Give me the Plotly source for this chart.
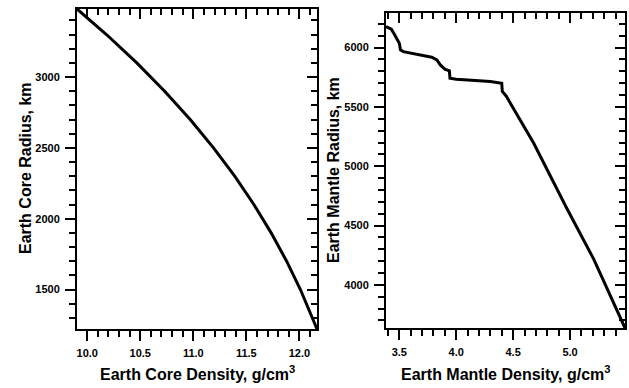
import plotly.graph_objects as go

# Earth core (outer core) density vs radius
core_density = [9.9035, 10.1813, 10.4673, 10.7301, 10.9709, 11.1907, 11.3904,
                11.5712, 11.7340, 11.8799, 12.0099, 12.1250, 12.1663]
core_radius = [3480, 3300, 3100, 2900, 2700, 2500, 2300, 2100, 1900, 1700, 1500, 1300, 1221.5]

# Earth mantle density vs radius
mantle_density = [3.383, 3.43, 3.46, 3.50, 3.51, 3.535, 3.785, 3.83, 3.86, 3.90, 3.94,
                  3.945, 4.00, 4.30, 4.40, 4.405, 4.44, 4.68, 4.97, 5.21, 5.483]
mantle_radius = [6177, 6155, 6107, 6037, 5981, 5966, 5919, 5896, 5854, 5818, 5804,
                 5742, 5734, 5714, 5700, 5630, 5590, 5195, 4648, 4213, 3636]

core_xrange = [9.9035, 12.1663]
core_yrange = [1221.5, 3480]
mantle_xrange = [3.383, 5.483]
mantle_yrange = [3636, 6296]

FONT = "Liberation Sans, Arial, sans-serif"
W, H = 629, 388


def px_x(p):
    return p / W


def px_y(p):
    return 1 - p / H


fig = go.Figure()
fig.add_trace(go.Scatter(x=core_density, y=core_radius, mode="lines",
                         line=dict(color="black", width=3), xaxis="x", yaxis="y",
                         showlegend=False, hoverinfo="skip"))
fig.add_trace(go.Scatter(x=mantle_density, y=mantle_radius, mode="lines",
                         line=dict(color="black", width=3), xaxis="x2", yaxis="y2",
                         showlegend=False, hoverinfo="skip"))
# invisible traces on mirrored axes so they render
fig.add_trace(go.Scatter(x=[core_density[0]], y=[core_radius[0]], mode="markers",
                         marker=dict(opacity=0), xaxis="x3", yaxis="y3",
                         showlegend=False, hoverinfo="skip"))
fig.add_trace(go.Scatter(x=[mantle_density[0]], y=[mantle_radius[0]], mode="markers",
                         marker=dict(opacity=0), xaxis="x4", yaxis="y4",
                         showlegend=False, hoverinfo="skip"))

dxl = [px_x(77), px_x(317)]
dxr = [px_x(386), px_x(625)]
dyl = [px_y(329), px_y(9)]
dyr = [px_y(328), px_y(12.5)]

tickfont = dict(family=FONT, size=11, color="black", weight="bold")


def main_axis(rng, dom, anchor, dtick, mdtick, fmt=None):
    d = dict(range=rng, domain=dom, anchor=anchor, showgrid=False, zeroline=False,
             showline=True, linecolor="black", linewidth=2,
             ticks="outside", ticklen=10, tickwidth=2, tickcolor="black",
             dtick=dtick, tickfont=tickfont, ticklabelstandoff=3,
             minor=dict(ticks="outside", ticklen=6, tickwidth=1.5,
                        tickcolor="black", dtick=mdtick, showgrid=False))
    if fmt:
        d["tickformat"] = fmt
    return d


def mirror_axis(rng, dom, overlay, anchor, side, dtick, mdtick):
    return dict(range=rng, domain=dom, overlaying=overlay, anchor=anchor, side=side,
                showgrid=False, zeroline=False, showline=True, linecolor="black",
                linewidth=2, ticks="inside", ticklen=10, tickwidth=2,
                tickcolor="black", dtick=dtick, showticklabels=False,
                minor=dict(ticks="inside", ticklen=6, tickwidth=1.5,
                           tickcolor="black", dtick=mdtick, showgrid=False))


fig.update_layout(
    width=W, height=H,
    margin=dict(l=0, r=0, t=0, b=0),
    paper_bgcolor="white", plot_bgcolor="white",
    xaxis=main_axis(core_xrange, dxl, "y", 0.5, 0.1, ".1f"),
    yaxis=main_axis(core_yrange, dyl, "x", 500, 100),
    xaxis2=main_axis(mantle_xrange, dxr, "y2", 0.5, 0.1, ".1f"),
    yaxis2=main_axis(mantle_yrange, dyr, "x2", 500, 100),
    xaxis3=mirror_axis(core_xrange, dxl, "x", "y3", "top", 0.5, 0.1),
    yaxis3=mirror_axis(core_yrange, dyl, "y", "x3", "right", 500, 100),
    xaxis4=mirror_axis(mantle_xrange, dxr, "x2", "y4", "top", 0.5, 0.1),
    yaxis4=mirror_axis(mantle_yrange, dyr, "y2", "x4", "right", 500, 100),
)

title_font = dict(family=FONT, size=16, color="black", weight="bold")
annotations = [
    dict(text="Earth Core Density, g/cm<sup>3</sup>", x=px_x(197), y=px_y(385),
         xanchor="center", yanchor="bottom"),
    dict(text="Earth Mantle Density, g/cm<sup>3</sup>", x=px_x(505.5), y=px_y(385),
         xanchor="center", yanchor="bottom"),
    dict(text="Earth Core Radius, km", x=px_x(25), y=px_y(168),
         xanchor="center", yanchor="middle", textangle=-90),
    dict(text="Earth Mantle Radius, km", x=px_x(333), y=px_y(170),
         xanchor="center", yanchor="middle", textangle=-90),
]
for a in annotations:
    a.update(xref="paper", yref="paper", showarrow=False, font=title_font)
fig.update_layout(annotations=annotations)

fig.write_html(
    "out.html",
    config={"displayModeBar": False},
    post_script="document.body.style.margin='0';document.body.style.overflow='hidden';",
)
